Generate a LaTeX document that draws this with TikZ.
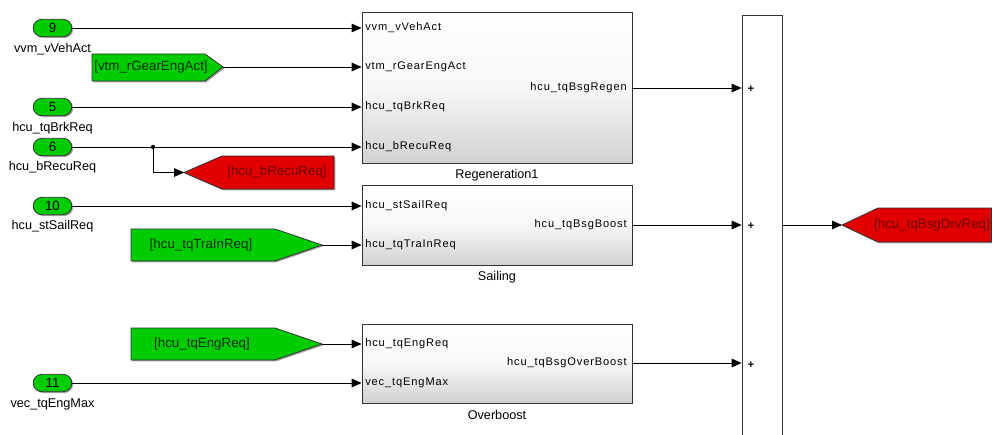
\documentclass[tikz,border=0pt]{standalone}
\usepackage{fontspec}
\setmainfont{Liberation Sans}
\newfontfamily\blkfont[LetterSpace=8]{Liberation Sans}
\usetikzlibrary{arrows.meta,shadows}
\definecolor{sgreen}{RGB}{0,204,0}
\definecolor{sred}{RGB}{224,0,0}
\definecolor{sredtxt}{RGB}{110,0,0}
\definecolor{sgreentxt}{RGB}{0,45,0}
\definecolor{edgec}{RGB}{50,50,50}
\tikzset{
  sig/.style={draw=black, line width=0.6pt, -{Triangle[length=7.5pt,width=6.5pt]}},
  shad/.style={drop shadow={shadow xshift=1pt,shadow yshift=-1pt,opacity=0.35,fill=black}},
  inport/.style={draw=edgec, fill=sgreen, rounded corners=6.5pt, minimum width=29pt,
    minimum height=13pt, inner sep=0pt, line width=0.6pt, shad,
    font=\fontsize{10}{12}\selectfont},
  plabel/.style={inner sep=0pt, font=\fontsize{9.5}{11}\selectfont},
  gotog/.style={draw=edgec, fill=sgreen, line width=0.6pt, shad},
  gotor/.style={draw=edgec, fill=sred, line width=0.6pt, shad},
  gtxtg/.style={inner sep=0pt, text=sgreentxt, font=\fontsize{10}{12}\selectfont},
  gtxtr/.style={inner sep=0pt, text=sredtxt, font=\fontsize{10}{12}\selectfont},
  subsys/.style={draw=edgec, line width=0.6pt, top color=white, bottom color=black!18,
    middle color=white!97!black, minimum width=202.5pt, shad},
  inlab/.style={inner sep=0pt, anchor=west, font=\blkfont\fontsize{8.3}{10}\selectfont},
  outlab/.style={inner sep=0pt, anchor=east, font=\blkfont\fontsize{8.3}{10}\selectfont},
  blabel/.style={inner sep=0pt, font=\fontsize{9.5}{11}\selectfont},
  sumblk/.style={draw=edgec, fill=white, line width=0.6pt, minimum width=30pt,
    minimum height=322.5pt, inner sep=0pt, shad},
  plus/.style={inner sep=0pt, font=\bfseries\fontsize{8.5}{9}\selectfont}
}
\begin{document}
\begin{tikzpicture}[x=0.75pt,y=-0.75pt]
\useasboundingbox (0,0) rectangle (992,435);
\clip (0,0) rectangle (992,435);
\fill[white] (0,0) rectangle (992,435);

% subsystems
\node[subsys, minimum height=113.25pt] (regen) at (497,87.5) {};
\node[subsys, minimum height=60pt] (sail) at (497,225) {};
\node[subsys, minimum height=59.25pt] (over) at (497,363.5) {};
\node[blabel] (regenl) at (497,175) {Regeneration1};
\node[blabel] (saill) at (497,277) {Sailing};
\node[blabel] (overl) at (497,415) {Overboost};

% port labels
\node[inlab] (r1) at (365,28) {vvm\_vVehAct};
\node[inlab] (r2) at (365,67) {vtm\_rGearEngAct};
\node[inlab] (r3) at (365,107) {hcu\_tqBrkReq};
\node[inlab] (r4) at (365,147) {hcu\_bRecuReq};
\node[outlab] (ro) at (627,88) {hcu\_tqBsgRegen};
\node[inlab] (s1) at (365,206) {hcu\_stSailReq};
\node[inlab] (s2) at (365,245) {hcu\_tqTraInReq};
\node[outlab] (so) at (627,225) {hcu\_tqBsgBoost};
\node[inlab] (o1) at (365,344) {hcu\_tqEngReq};
\node[inlab] (o2) at (365,383) {vec\_tqEngMax};
\node[outlab] (oo) at (627,363) {hcu\_tqBsgOverBoost};

% sum
\node[sumblk] (sum) at (762,230) {};
\node[plus] (p1) at (751,89) {+};
\node[plus] (p2) at (751,226) {+};
\node[plus] (p3) at (751,365) {+};

% inports
\node[inport] (in9) at (52.5,28) {9};
\node[plabel] (in9l) at (52.5,49) {vvm\_vVehAct};
\node[inport] (in5) at (52.5,107) {5};
\node[plabel] (in5l) at (52.5,128) {hcu\_tqBrkReq};
\node[inport] (in6) at (52.5,147) {6};
\node[plabel] (in6l) at (52.5,167) {hcu\_bRecuReq};
\node[inport] (in10) at (52.5,206) {10};
\node[plabel] (in10l) at (52.5,226) {hcu\_stSailReq};
\node[inport] (in11) at (52.5,383) {11};
\node[plabel] (in11l) at (52.5,404) {vec\_tqEngMax};

% goto / from tags
\path[gotog] (92,54) -- (205,54) -- (223,67) -- (205,81) -- (92,81) -- cycle;
\coordinate (gvtm) at (223,67);
\node[gtxtg] (gvtmt) at (151,67) {[vtm\_rGearEngAct]};

\path[gotog] (131,229) -- (275,229) -- (322,245) -- (275,261) -- (131,261) -- cycle;
\coordinate (gtra) at (322,245);
\node[gtxtg] (gtrat) at (201,245) {[hcu\_tqTraInReq]};

\path[gotog] (131,328) -- (275,328) -- (322,344) -- (275,360) -- (131,360) -- cycle;
\coordinate (geng) at (322,344);
\node[gtxtg] (gengt) at (202,344) {[hcu\_tqEngReq]};

\path[gotor] (184,172.5) -- (222,156) -- (334,156) -- (334,189) -- (222,189) -- cycle;
\coordinate (grec) at (184,172.5);
\node[gtxtr] (grect) at (277,172.5) {[hcu\_bRecuReq]};

\path[gotor] (842,225) -- (878,208) -- (991.5,208) -- (991.5,242) -- (878,242) -- cycle;
\coordinate (gdrv) at (842,225);
\node[gtxtr] (gdrvt) at (932,225) {[hcu\_tqBsgDrvReq]};

% signals
\draw[sig] (in9.east) -- (regen.west |- r1);
\draw[sig] (gvtm) -- (regen.west |- r2);
\draw[sig] (in5.east) -- (regen.west |- r3);
\draw[sig] (in6.east) -- (regen.west |- r4);
\coordinate (j6) at (153,147);
\fill (j6) circle (1.6pt);
\draw[sig] (j6) |- (grec);
\draw[sig] (in10.east) -- (sail.west |- s1);
\draw[sig] (gtra) -- (sail.west |- s2);
\draw[sig] (geng) -- (over.west |- o1);
\draw[sig] (in11.east) -- (over.west |- o2);
\draw[sig] (regen.east |- ro) -- (sum.west |- ro);
\draw[sig] (sail.east |- so) -- (sum.west |- so);
\draw[sig] (over.east |- oo) -- (sum.west |- oo);
\draw[sig] (sum.east |- gdrv) -- (gdrv);
\end{tikzpicture}
\end{document}
